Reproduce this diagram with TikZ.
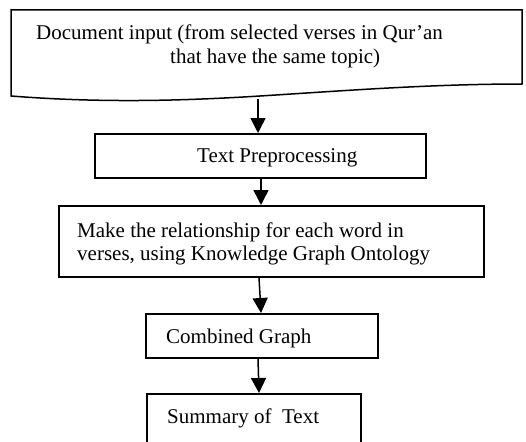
\documentclass[tikz,border=0pt]{standalone}
\usepackage{fontspec}
\setmainfont{Liberation Serif}
\usetikzlibrary{arrows.meta}
\tikzset{
  box/.style={draw, line width=1.5pt, anchor=north west, inner sep=0pt},
  lbl/.style={anchor=base west, inner sep=0pt, font=\fontsize{21}{25}\selectfont},
  arr/.style={line width=1.5pt, -{Triangle[length=15pt,width=15pt]}}
}
\begin{document}
\begin{tikzpicture}[x=1pt,y=-1pt]
\useasboundingbox (0,0) rectangle (526,441);
\clip (0,0) rectangle (526,441);
\fill[white] (0,0) rectangle (526,441);
% document shape
\draw[line width=1.5pt, line join=miter] (11,96) -- (11,10) -- (522,10) -- (522,84)
  .. controls (430,84) and (340,91) .. (260,96)
  .. controls (180,101) and (100,103) .. (11,96) -- cycle;
\node[lbl] (doc1) at (36,40) {Document input (from selected verses in Qur’an};
\node[lbl] (doc2) at (170,64) {that have the same topic)};
\coordinate (docbot) at (258,99);
% boxes
\node[box, minimum width=331pt, minimum height=44pt] (b2) at (94,133) {};
\node[lbl] (t2) at (197,162) {Text Preprocessing};
\node[box, minimum width=425pt, minimum height=71pt] (b3) at (58,205) {};
\node[lbl] (t3a) at (77,237) {Make the relationship for each word in};
\node[lbl] (t3b) at (77,260) {verses, using Knowledge Graph Ontology};
\node[box, minimum width=232pt, minimum height=44pt] (b4) at (145,313) {};
\node[lbl] (t4) at (166,343) {Combined Graph};
\node[box, minimum width=214pt, minimum height=70pt] (b5) at (146,393) {};
\node[lbl] (t5) at (167,423) {Summary of~ Text};
% arrows
\draw[arr] (docbot) -- (docbot |- b2.north);
\draw[arr] (b2.south -| 261,0) -- (b3.north -| 261,0);
\draw[arr] (b3.south -| 259,0) -- (b4.north -| 261,0);
\draw[arr] (b4.south -| 258,0) -- (b5.north -| 259,0);
\end{tikzpicture}
\end{document}
